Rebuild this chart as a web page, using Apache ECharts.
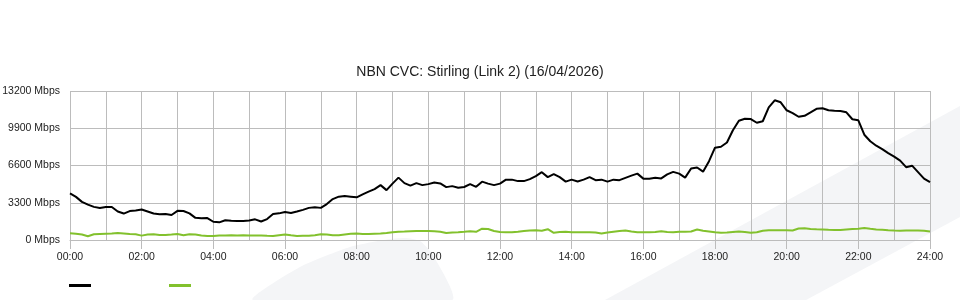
<!DOCTYPE html>
<html>
<head>
<meta charset="utf-8">
<script src="https://cdn.jsdelivr.net/npm/echarts@6/dist/echarts.min.js"></script>
<style>
html,body{margin:0;padding:0;background:#fff;}
#chart{width:960px;height:300px;}
</style>
</head>
<body>
<div id="chart"></div>
<script>
// 10-minute samples, 00:00 .. 24:00
var timeLabels = [];
for (var m = 0; m <= 1440; m += 10) {
  var h = Math.floor(m / 60), mm = m % 60;
  timeLabels.push((h < 10 ? '0' : '') + h + ':' + (mm < 10 ? '0' : '') + mm);
}

var seriesNames = ['Download', 'Upload'];

var download = [
4128,3819,3377,3138,2935,2829,2917,2917,2519,2343,
2564,2608,2696,2519,2343,2281,2298,2210,2581,2564,
2360,1962,1927,1945,1618,1565,1750,1697,1680,1680,
1724,1830,1635,1856,2298,2360,2475,2400,2519,2670,
2846,2891,2846,3182,3624,3837,3890,3837,3784,4040,
4287,4508,4862,4420,4995,5525,5039,4818,5039,4862,
4950,5101,5012,4685,4774,4623,4694,4950,4712,5171,
4995,4862,4995,5348,5348,5216,5216,5392,5658,6011,
5569,5834,5569,5171,5348,5189,5348,5569,5304,5348,
5171,5348,5304,5507,5702,5879,5437,5428,5507,5454,
5808,6038,5879,5525,6338,6427,6055,6984,8177,8265,
8637,9724,10564,10741,10714,10387,10520,11757,12376,12199,
11492,11245,10918,11006,11315,11625,11669,11492,11448,11430,
11315,10696,10608,9326,8752,8354,8044,7691,7381,7028,
6453,6586,6011,5437,5127
];

var upload = [
592,548,486,327,504,530,548,566,619,575,
530,513,389,486,513,442,442,477,530,424,
504,486,398,354,354,398,398,415,398,415,
398,398,398,371,354,424,486,415,354,371,
380,424,504,486,415,415,486,548,575,530,
530,548,566,619,681,734,751,778,796,796,
796,778,734,619,663,681,725,778,725,999,
972,796,707,681,681,734,796,840,857,813,
955,636,707,725,690,681,681,681,663,575,
663,734,796,840,751,690,681,681,707,769,
707,690,725,734,751,928,813,751,690,645,
663,707,751,707,645,690,813,866,866,866,
866,840,1017,1034,972,946,928,902,884,884,
928,972,999,1061,990,928,902,866,840,822,
840,849,849,813,751
];

var yMax = 13200, yStep = 3300;
var titleText = 'NBN CVC: Stirling (Link 2) (16/04/2026)';

var chart = echarts.init(document.getElementById('chart'), null, {renderer: 'canvas'});
var gridColor = '#bcbcbc';
var font = 'Liberation Sans, Arial, sans-serif';

chart.setOption({
  animation: false,
  backgroundColor: '#ffffff',
  title: {
    text: titleText,
    left: 'center',
    top: 60,
    textStyle: {fontFamily: font, fontSize: 14, fontWeight: 'normal', color: '#222'}
  },
  graphic: [
    {type: 'polygon', z: -100, silent: true,
     shape: {points: [[605,300],[960,106],[960,217],[806,300]]},
     style: {fill: '#f4f5f7'}},
    {type: 'polygon', z: -100, silent: true,
     shape: {points: [[253,300],[300,267],[350,247],[387,239.5],[405,238],[420,241],[433,255],[452,300]], smooth: 0.2},
     style: {fill: '#f4f5f7'}}
  ],
  legend: {
    left: 64,
    top: 279,
    itemWidth: 22,
    itemHeight: 3,
    itemGap: 78,
    icon: 'rect',
    formatter: function () { return ''; },
    data: seriesNames
  },
  grid: {left: 70, right: 30, top: 91, bottom: 60, containLabel: false, outerBoundsMode: 'none'},
  xAxis: {
    type: 'category',
    data: timeLabels,
    boundaryGap: false,
    axisLine: {show: true, lineStyle: {color: gridColor}},
    axisTick: {show: true, interval: 11, length: 9, lineStyle: {color: gridColor}},
    axisLabel: {interval: 11, margin: 12, fontFamily: font, fontSize: 10.5, color: '#222'},
    splitLine: {show: true, interval: 5, lineStyle: {color: gridColor, width: 1}}
  },
  yAxis: {
    type: 'value',
    min: 0,
    max: yMax,
    interval: yStep,
    axisLine: {show: false},
    axisTick: {show: false},
    axisLabel: {formatter: function (v) { return v + ' Mbps'; }, margin: 10, padding: [0, 0, 3, 0], fontFamily: font, fontSize: 10.5, color: '#222'},
    splitLine: {show: true, lineStyle: {color: gridColor, width: 1}}
  },
  series: [
    {name: seriesNames[0], type: 'line', data: download, showSymbol: false, symbol: 'none',
     lineStyle: {color: '#000000', width: 2}, itemStyle: {color: '#000000'}, z: 3},
    {name: seriesNames[1], type: 'line', data: upload, showSymbol: false, symbol: 'none',
     lineStyle: {color: '#82c12d', width: 2}, itemStyle: {color: '#82c12d'}, z: 2}
  ]
});
</script>
</body>
</html>
